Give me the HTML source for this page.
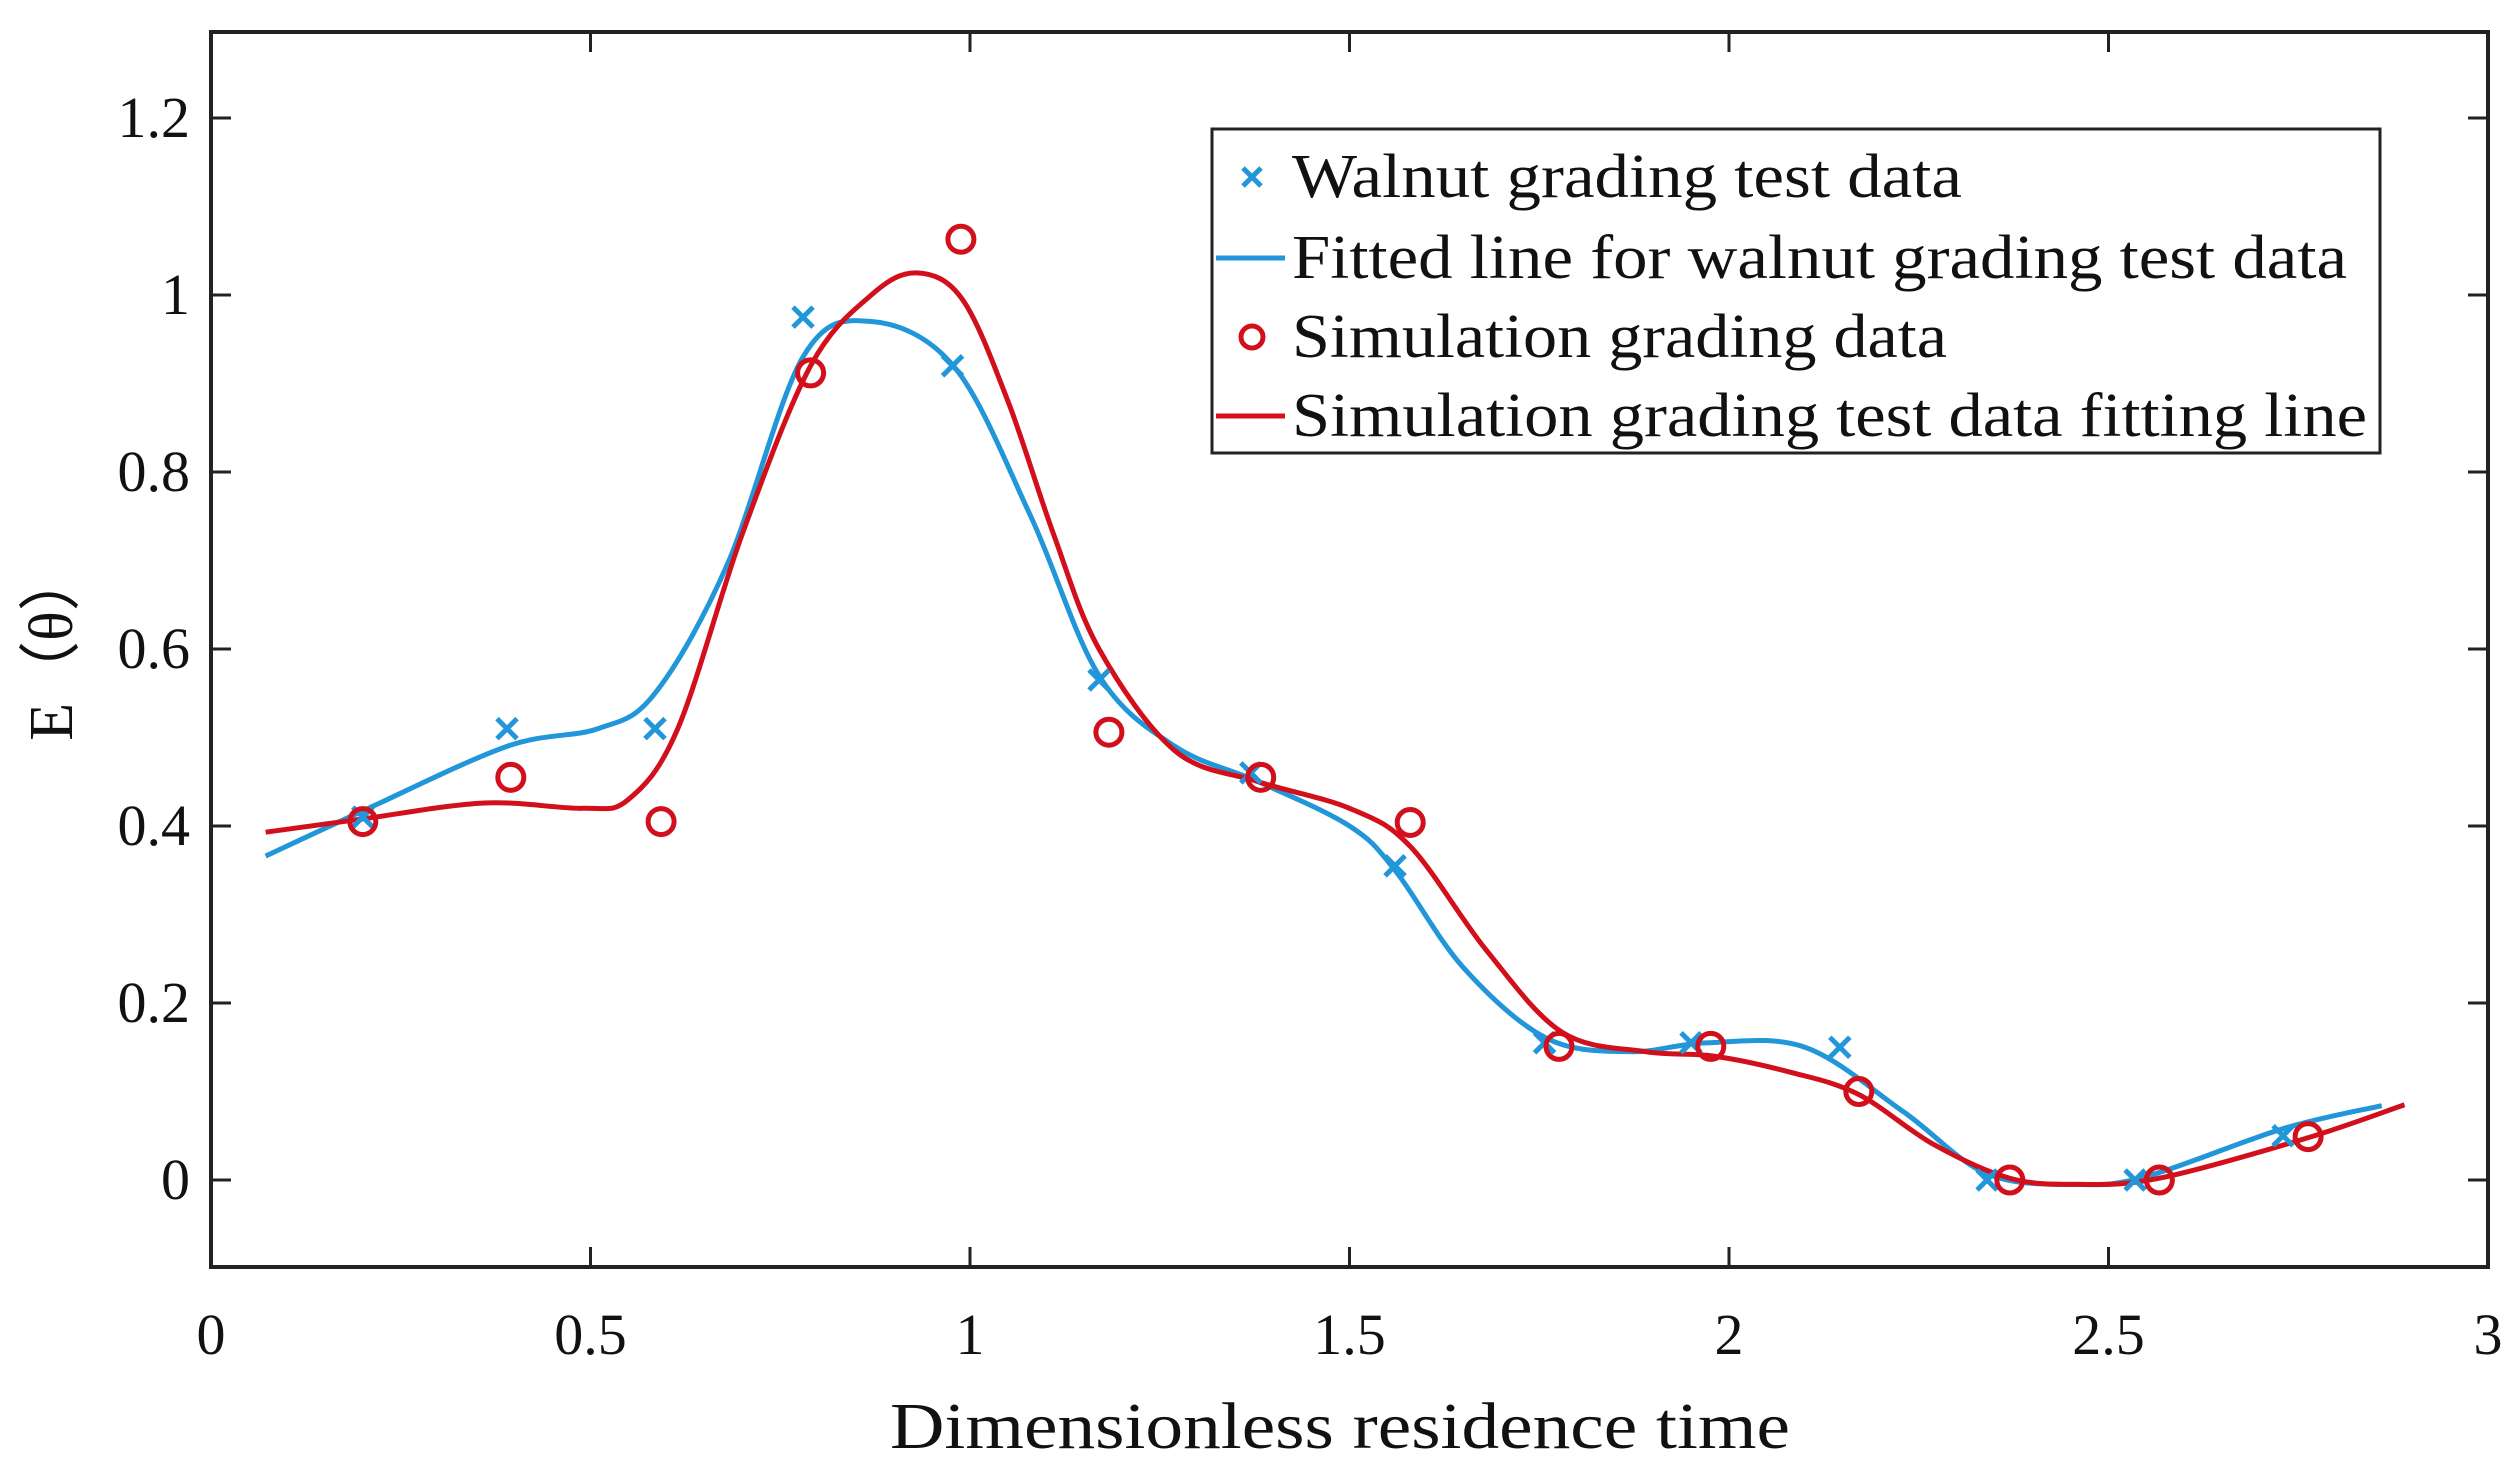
<!DOCTYPE html>
<html><head><meta charset="utf-8"><style>
html,body{margin:0;padding:0;background:#fff}
svg{display:block}
text{font-family:"Liberation Serif",serif;fill:#111}
</style></head><body>
<svg id="chart" width="2520" height="1474" viewBox="0 0 2520 1474" xmlns="http://www.w3.org/2000/svg"></svg>
<script>
const walnutX=[0.2,0.39,0.585,0.78,0.977,1.17,1.37,1.56,1.757,1.95,2.146,2.34,2.535,2.73];
const walnutY=[0.41,0.51,0.51,0.975,0.92,0.565,0.46,0.355,0.155,0.155,0.15,0,0,0.05];
const simX=[0.2,0.395,0.593,0.79,0.988,1.183,1.383,1.58,1.776,1.976,2.171,2.37,2.567,2.763];
const simY=[0.405,0.455,0.405,0.912,1.063,0.506,0.455,0.404,0.151,0.151,0.1,0,0,0.049];
const blueFitX=[0.072,0.2,0.39,0.51,0.585,0.68,0.78,0.87,0.98,1.08,1.17,1.27,1.38,1.5,1.56,1.65,1.76,1.87,1.97,2.1,2.23,2.34,2.46,2.55,2.73,2.86];
const blueFitY=[0.366,0.417,0.49,0.51,0.55,0.695,0.93,0.97,0.918,0.75,0.57,0.49,0.45,0.40,0.35,0.24,0.16,0.145,0.155,0.15,0.077,0.007,-0.005,0.004,0.058,0.084];
const redFitX=[0.072,0.2,0.36,0.49,0.55,0.615,0.7,0.79,0.87,0.93,0.99,1.05,1.11,1.17,1.27,1.38,1.5,1.58,1.68,1.78,1.89,1.98,2.08,2.17,2.27,2.37,2.46,2.567,2.76,2.89];
const redFitY=[0.393,0.408,0.426,0.42,0.43,0.51,0.73,0.92,1.0,1.025,0.995,0.88,0.73,0.6,0.485,0.45,0.42,0.377,0.26,0.167,0.145,0.14,0.122,0.097,0.04,0.002,-0.005,0.002,0.047,0.085];
const xTicks=[0,0.5,1,1.5,2,2.5,3];
const xTickLabels=["0","0.5","1","1.5","2","2.5","3"];
const yTicks=[0,0.2,0.4,0.6,0.8,1,1.2];
const yTickLabels=["0","0.2","0.4","0.6","0.8","1","1.2"];

const NS="http://www.w3.org/2000/svg";
const svg=document.getElementById('chart');
const L=211,R=2488,T=32,B=1267;
const X0=0,X1=3;
const yZeroPx=1180,yPerUnit=885;
function sx(v){return L+(v-X0)/(X1-X0)*(R-L);}
function sy(v){return yZeroPx-v*yPerUnit;}
function mk(tag,attrs,parent){const e=document.createElementNS(NS,tag);for(const k in attrs)e.setAttribute(k,attrs[k]);(parent||svg).appendChild(e);return e;}
const BLUE="#2196d8",RED="#d2101c";

const box=mk('rect',{x:L,y:T,width:R-L,height:B-T,fill:'none',stroke:'#222','stroke-width':4});



xTicks.forEach((t,i)=>{
  const x=sx(t);
  const a=mk('line',{x1:x,x2:x,y1:B,y2:B-20,stroke:'#222','stroke-width':3});
  
  
  const b=mk('line',{x1:x,x2:x,y1:T,y2:T+20,stroke:'#222','stroke-width':3});
  
  
  const tx=mk('text',{x:x,y:1354,'font-size':58,'text-anchor':'middle'});
  tx.textContent=xTickLabels[i];
  
  
});
yTicks.forEach((t,i)=>{
  const y=sy(t);
  const a=mk('line',{x1:L,x2:L+20,y1:y,y2:y,stroke:'#222','stroke-width':3});
  
  
  const b=mk('line',{x1:R,x2:R-20,y1:y,y2:y,stroke:'#222','stroke-width':3});
  
  
  const tx=mk('text',{x:190,y:y+19,'font-size':58,'text-anchor':'end'});
  tx.textContent=yTickLabels[i];
  
  
});

const xt=mk('text',{x:1340,y:1448,'font-size':66,'text-anchor':'middle',textLength:900,lengthAdjust:'spacingAndGlyphs'});
xt.textContent='Dimensionless residence time';


const yt=mk('text',{x:0,y:0,'font-size':62,'text-anchor':'middle',transform:'translate(72,645) rotate(-90)'});
yt.textContent='E（θ）';



function smoothPath(xs,ys){
  const p=xs.map((x,i)=>[sx(x),sy(ys[i])]);
  let d='M'+p[0][0]+','+p[0][1];
  for(let i=0;i<p.length-1;i++){
    const p0=p[i-1]||p[i],p1=p[i],p2=p[i+1],p3=p[i+2]||p2;
    const c1=[p1[0]+(p2[0]-p0[0])/6,p1[1]+(p2[1]-p0[1])/6];
    const c2=[p2[0]-(p3[0]-p1[0])/6,p2[1]-(p3[1]-p1[1])/6];
    d+=' C'+c1[0]+','+c1[1]+' '+c2[0]+','+c2[1]+' '+p2[0]+','+p2[1];
  }
  return d;
}
const bl=mk('path',{d:smoothPath(blueFitX,blueFitY),fill:'none',stroke:BLUE,'stroke-width':5});


const rl=mk('path',{d:smoothPath(redFitX,redFitY),fill:'none',stroke:RED,'stroke-width':5});



function cross(cx,cy,s,parent){
  return mk('path',{d:`M${cx-s},${cy-s}L${cx+s},${cy+s}M${cx-s},${cy+s}L${cx+s},${cy-s}`,stroke:BLUE,'stroke-width':5,fill:'none'},parent);
}
walnutX.forEach((x,i)=>{
  const c=cross(sx(x),sy(walnutY[i]),10);
  
  
});
simX.forEach((x,i)=>{
  const c=mk('circle',{cx:sx(x),cy:sy(simY[i]),r:13,fill:'none',stroke:RED,'stroke-width':5});
  
  
});

const lg=mk('g',{});


mk('rect',{x:1212,y:129,width:1168,height:324,fill:'#fff',stroke:'#222','stroke-width':3},lg);
const labels=['Walnut grading test data','Fitted line for walnut grading test data','Simulation grading data','Simulation grading test data fitting line'];
const widths=[670,1055,655,1075];
const rowsY=[177,258,337,416];
labels.forEach((lab,i)=>{
  const y=rowsY[i];
  let m;
  if(i===0){m=cross(1252,y,9,lg);}
  else if(i===2){m=mk('circle',{cx:1252,cy:y,r:11,fill:'none',stroke:RED,'stroke-width':5},lg);}
  else {m=mk('line',{x1:1216,x2:1285,y1:y,y2:y,stroke:i===1?BLUE:RED,'stroke-width':5},lg);}
  
  
  const t=mk('text',{x:1292,y:y+20,'font-size':62,textLength:widths[i],lengthAdjust:'spacingAndGlyphs'},lg);
  t.textContent=lab;
  
  
});
</script>
</body></html>
